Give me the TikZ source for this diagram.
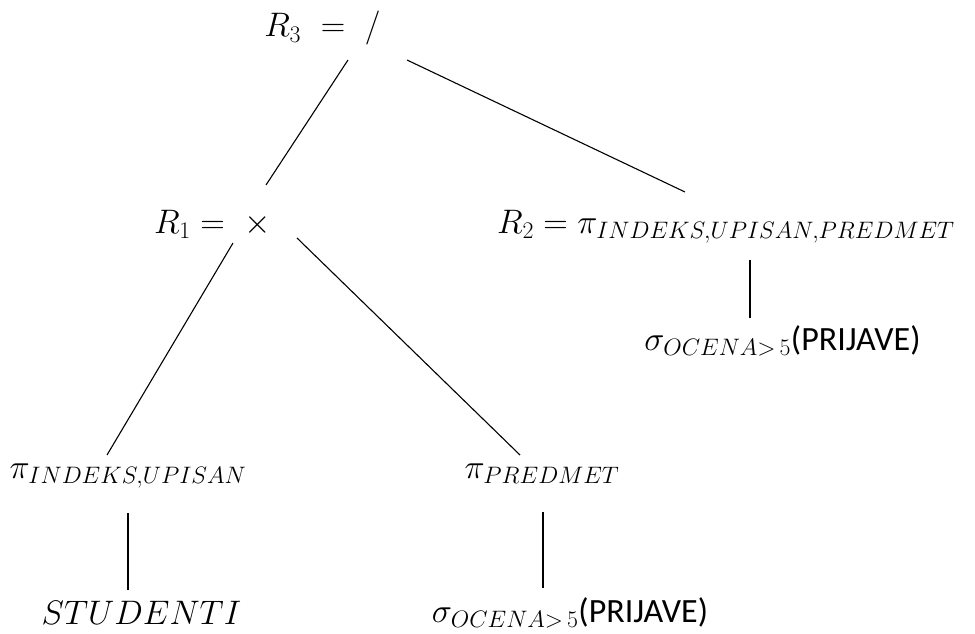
\RequirePackage{fix-cm}
\documentclass[tikz,border=0pt]{standalone}
\usepackage{fontspec}
\newfontfamily\calfont{Carlito}
\usepackage{tikz}
\usepackage{xcolor}

\begin{document}
\begin{tikzpicture}[x=1pt,y=-1pt,
        expr/.style = {anchor=base, inner sep=0pt,
          font=\fontsize{34}{40}\selectfont, color=black},
        link/.style = {draw, line width=1.1pt, color=black}]
  \useasboundingbox (0,0) rectangle (975,634);
  \node[expr] (r3) at (322.5,37) {$R_3\ =\ /$};
  \node[expr] (r1) at (212.5,233) {$R_1 =\ \times$};
  \node[expr] (r2) at (726,233) {$R_2 = \pi_{INDEKS,UPISAN,PREDMET}$};
  \node[expr] (sigr) at (782.5,350) {$\sigma_{OCENA>\,5}${\calfont(PRIJAVE)}};
  \node[expr] (piiu) at (128,478) {$\pi_{INDEKS,UPISAN}$};
  \node[expr] (pip) at (542,478) {$\pi_{PREDMET}$};
  \node[expr] (stud) at (141.5,624) {$STUDENTI$};
  \node[expr] (sigb) at (570,622) {$\sigma_{OCENA>\,5}${\calfont(PRIJAVE)}};

  \draw[link] ([xshift=25.5pt,yshift=-23pt]r3.base) -- ([xshift=53.5pt,yshift=48pt]r1.base);
  \draw[link] ([xshift=84.5pt,yshift=-23pt]r3.base) -- ([xshift=-41pt,yshift=41pt]r2.base);
  \draw[link] ([xshift=20.5pt,yshift=-10pt]r1.base) -- ([xshift=-21pt,yshift=23pt]piiu.base);
  \draw[link] ([xshift=84.5pt,yshift=-5pt]r1.base) -- ([xshift=-22pt,yshift=23pt]pip.base);
  \draw[link] ([xshift=24pt,yshift=-27pt]r2.base) -- ([xshift=-32.5pt,yshift=32pt]sigr.base);
  \draw[link] ([yshift=-35pt]piiu.base) -- ([xshift=-13.5pt,yshift=34pt]stud.base);
  \draw[link] ([xshift=1pt,yshift=-34pt]pip.base) -- ([xshift=-27pt,yshift=34pt]sigb.base);
\end{tikzpicture}
\end{document}
